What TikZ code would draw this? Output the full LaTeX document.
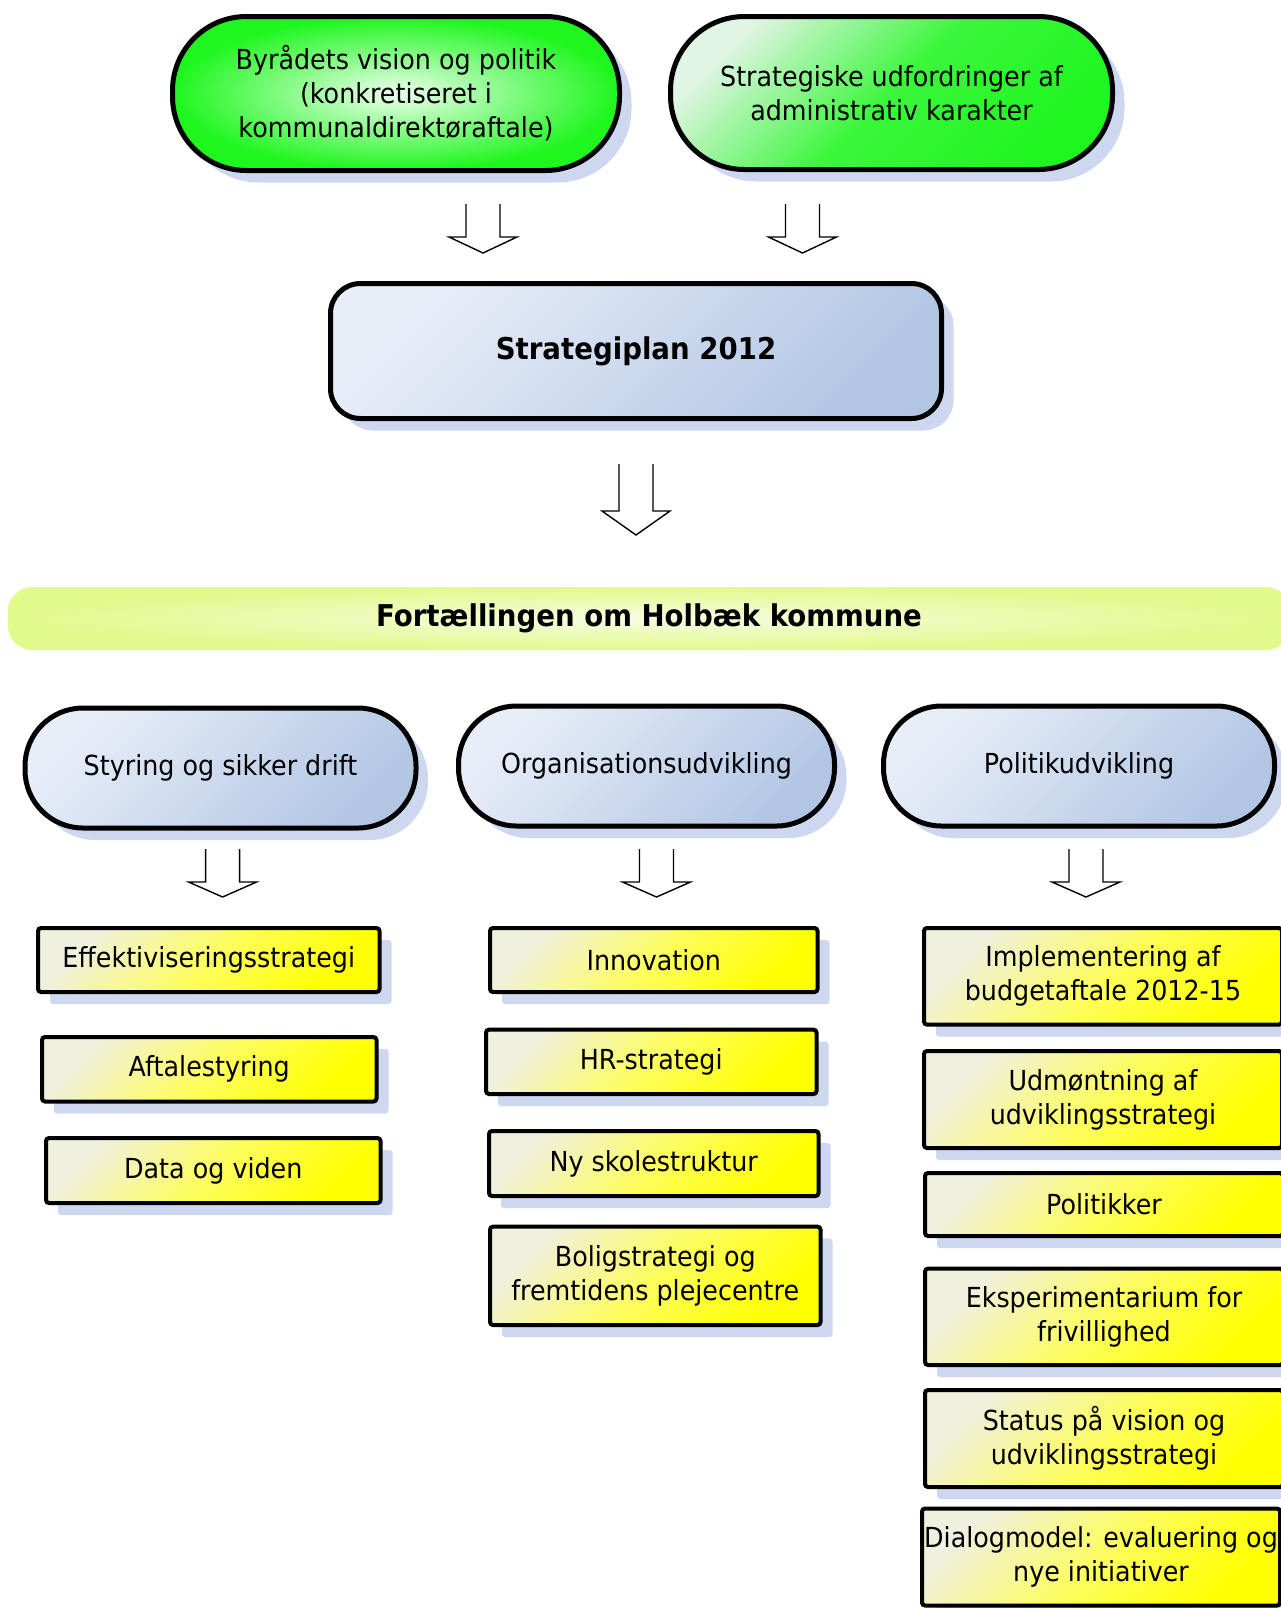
\documentclass[tikz,border=0pt]{standalone}
\usepackage{fontspec}
\setmainfont{DejaVu Sans}[FakeStretch=0.92]
\usetikzlibrary{shadows}
\definecolor{grnout}{RGB}{30,246,30}
\definecolor{grnin}{RGB}{238,255,238}
\definecolor{grnlt}{RGB}{225,245,228}
\definecolor{grnmid}{RGB}{60,246,60}
\definecolor{bluelt}{RGB}{232,238,248}
\definecolor{bluedk}{RGB}{178,198,228}
\definecolor{yellt}{RGB}{240,240,222}
\definecolor{yelmid}{RGB}{253,253,95}
\definecolor{yeldk}{RGB}{255,255,0}
\definecolor{barout}{RGB}{226,249,140}
\definecolor{barin}{RGB}{247,253,225}
\definecolor{shadowblue}{RGB}{205,216,240}
\newcommand\normtxt{\fontsize{13.8pt}{17pt}\selectfont}
\newcommand\boldtxt{\fontsize{15pt}{18pt}\selectfont\bfseries}
\newcommand\blkarrow[4]{%
  \draw[arrowline] (#1-17,#2) -- (#1-17,#3) -- (#1-34,#3) -- (#1,#4) -- (#1+34,#3) -- (#1+17,#3) -- (#1+17,#2);}
\begin{document}
\begin{tikzpicture}[x=0.5pt,y=-0.5pt,
  shadowed/.style={drop shadow={shadow xshift=6pt,shadow yshift=-6pt,fill=shadowblue,opacity=1}},
  greenpill/.style={draw,line width=2.5pt,rounded corners=37pt,inner color=grnin,outer color=grnout,
    align=center,font=\normtxt,inner sep=0pt,shadowed},
  greenpilltwo/.style={draw,line width=2.5pt,rounded corners=37pt,top color=grnlt,
    bottom color=grnout,middle color=grnmid,shading angle=45,align=center,font=\normtxt,inner sep=0pt,shadowed},
  bluepill/.style={draw,line width=2.5pt,rounded corners=29pt,top color=bluelt,bottom color=bluedk,
    shading angle=45,align=center,font=\normtxt,inner sep=0pt,shadowed},
  stratbox/.style={draw,line width=2.5pt,rounded corners=15pt,top color=bluelt,bottom color=bluedk,
    shading angle=45,align=center,font=\boldtxt,inner sep=0pt,shadowed},
  topicbar/.style={rounded corners=12pt,inner color=barin,outer color=barout,align=center,
    font=\boldtxt,inner sep=0pt},
  yelbox/.style={draw,line width=2pt,rounded corners=1.5pt,top color=yellt,
    bottom color=yeldk,middle color=yelmid,shading angle=45,align=center,font=\normtxt,inner sep=0pt,shadowed},
  arrowline/.style={draw=black,line width=0.7pt,line join=miter}]
\fill[white] (0,0) rectangle (1281,1608);
\useasboundingbox (0,0) rectangle (1281,1608);

% top green nodes
\node[greenpill,minimum width=223.5pt,minimum height=77pt] (g1) at (396,93.5)
  {Byrådets vision og politik\\(konkretiseret i\\kommunaldirektøraftale)};
\node[greenpilltwo,minimum width=221pt,minimum height=76.5pt] (g2) at (891.5,93)
  {Strategiske udfordringer af\\administrativ karakter};

% strategy plan
\node[stratbox,minimum width=305.5pt,minimum height=67.5pt] (sp) at (636,351) {Strategiplan 2012};

% block arrows
\blkarrow{483}{204}{237}{253}
\blkarrow{802.5}{204}{237}{253}
\blkarrow{636}{464}{511}{535}

% topic bar
\node[topicbar,minimum width=641pt,minimum height=31.5pt] (bar) at (649,618.5)
  {Fortællingen om Holbæk kommune};

% blue pills
\node[bluepill,minimum width=195.5pt,minimum height=60pt] (b1) at (220.5,768) {Styring og sikker drift};
\node[bluepill,minimum width=188pt,minimum height=60pt] (b2) at (646.5,766) {Organisationsudvikling};
\node[bluepill,minimum width=195.5pt,minimum height=60pt] (b3) at (1079,766) {Politikudvikling};

\blkarrow{222.6}{849}{882}{897}
\blkarrow{656.5}{849}{882}{897}
\blkarrow{1086}{849}{882}{897}

% left column
\node[yelbox,minimum width=170.75pt,minimum height=32pt] (l1) at (208.75,960) {Effektiviseringsstrategi};
\node[yelbox,minimum width=167.25pt,minimum height=32.25pt] (l2) at (209.25,1069.25) {Aftalestyring};
\node[yelbox,minimum width=167.25pt,minimum height=32.5pt] (l3) at (213.25,1170.5) {Data og viden};

% middle column
\node[yelbox,minimum width=163.75pt,minimum height=32pt] (m1) at (653.75,960) {Innovation};
\node[yelbox,minimum width=165.25pt,minimum height=32.2pt] (m2) at (651.25,1061.8) {HR-strategi};
\node[yelbox,minimum width=164.75pt,minimum height=32.5pt] (m3) at (653.75,1163.5) {Ny skolestruktur};
\node[yelbox,minimum width=165.25pt,minimum height=49.2pt] (m4) at (655.25,1275.8)
  {Boligstrategi og\\fremtidens plejecentre};

% right column
\node[yelbox,minimum width=179pt,minimum height=48.3pt] (r1) at (1103,976.3)
  {Implementering af\\budgetaftale 2012-15};
\node[yelbox,minimum width=179pt,minimum height=48.5pt] (r2) at (1103,1099.5)
  {Udmøntning af\\udviklingsstrategi};
\node[yelbox,minimum width=179pt,minimum height=31.5pt] (r3) at (1104,1204.5) {Politikker};
\node[yelbox,minimum width=179pt,minimum height=48.2pt] (r4) at (1104,1316.8)
  {Eksperimentarium for\\frivillighed};
\node[yelbox,minimum width=179pt,minimum height=48.5pt] (r5) at (1104,1438.5)
  {Status på vision og\\udviklingsstrategi};
\node[yelbox,minimum width=179pt,minimum height=48.5pt] (r6) at (1101,1557)
  {Dialogmodel: evaluering og\\nye initiativer};
\end{tikzpicture}
\end{document}
